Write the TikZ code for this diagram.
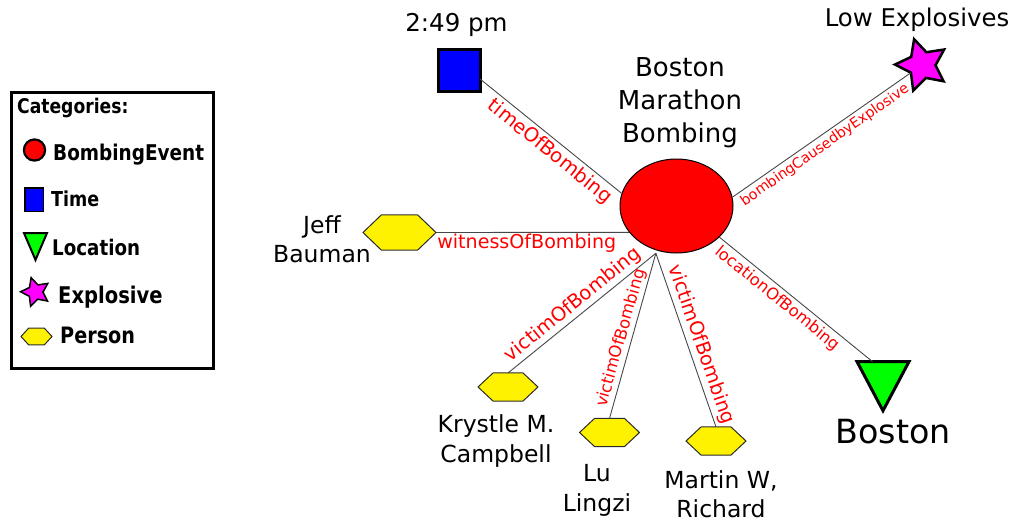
\documentclass[tikz,border=0pt]{standalone}
\usepackage{fontspec}
\setmainfont{DejaVu Sans}
\newfontfamily\legfont[FakeStretch=0.85]{DejaVu Sans Bold}
\usetikzlibrary{shapes.geometric}
\definecolor{edgegray}{HTML}{474747}
\definecolor{hexline}{HTML}{2B2B2B}
\definecolor{mag}{HTML}{FF00FF}
\definecolor{grn}{HTML}{00FF00}
\tikzset{
  edge/.style={draw=edgegray, line width=0.9pt},
  lab/.style={text=red, inner sep=#1, sloped},
  lab/.default=3pt,
  fs/.style={font=\fontsize{#1}{#1}\selectfont},
  person/.style={regular polygon, regular polygon sides=6, fill=yellow, draw=hexline,
    line width=1pt, inner sep=0pt, outer sep=0pt},
  starshape/.style={star, star points=5, star point ratio=2, fill=mag, draw=black,
    inner sep=0pt, outer sep=0pt, shape border rotate=17},
  tri/.style={regular polygon, regular polygon sides=3, shape border rotate=180,
    fill=grn, draw=black, inner sep=0pt, outer sep=0pt},
  sq/.style={rectangle, fill=blue, draw=black, inner sep=0pt, outer sep=0pt},
  nametext/.style={align=center, inner sep=0pt, font=\fontsize{23.5}{29.3}\selectfont},
  legtext/.style={anchor=base west, inner sep=0pt},
}
\begin{document}
\begin{tikzpicture}[x=1pt, y=-1pt]
\useasboundingbox (0,0) rectangle (1015,523);

% ---------- legend ----------
\node[draw, line width=3pt, minimum width=202pt, minimum height=276pt, inner sep=0pt] (legend) at (112.5,230.5) {};
\node[legtext, font=\legfont\fontsize{20.2}{22}\selectfont] (lcat) at (17,113) {Categories:};
\node[circle, fill=red, draw=black, line width=2.2pt, minimum size=21.2pt, inner sep=0pt] (lev) at (34.5,150) {};
\node[legtext, font=\legfont\fontsize{21.7}{24}\selectfont] (levt) at (53,160) {BombingEvent};
\node[sq, line width=1.5pt, minimum width=18.5pt, minimum height=23.5pt] (ltime) at (34,199.5) {};
\node[legtext, font=\legfont\fontsize{20.6}{22}\selectfont] (ltimet) at (51,206) {Time};
\node[tri, line width=2pt, minimum size=26.6pt, yscale=1.35] (lloc) at (35.5,242) {};
\node[legtext, font=\legfont\fontsize{21.5}{24}\selectfont] (lloct) at (52,255) {Location};
\node[starshape, line width=1.5pt, minimum size=30pt] (lexp) at (35.5,292) {};
\node[legtext, font=\legfont\fontsize{23}{25}\selectfont] (lexpt) at (58,303) {Explosive};
\node[person, minimum size=31pt, yscale=0.63] (lper) at (36.5,336.5) {};
\node[legtext, font=\legfont\fontsize{22.6}{25}\selectfont] (lpert) at (60,343) {Person};

% ---------- main graph nodes ----------
\node[ellipse, fill=red, draw=black, line width=1pt, minimum width=113pt, minimum height=94pt, inner sep=0pt] (event) at (676.5,206) {};
\node[nametext, font=\fontsize{26}{33}\selectfont] (eventtxt) at (680,103) {Boston\\Marathon\\Bombing};

\node[sq, line width=3pt, minimum size=42pt] (time) at (459,70) {};
\node[anchor=base, inner sep=0pt, fs=24.5] (timetxt) at (456.5,31) {2:49 pm};

\node[starshape, line width=2.5pt, minimum size=54pt] (explo) at (922,65) {};
\node[anchor=base, inner sep=0pt, fs=24.4] (explotxt) at (917,26) {Low Explosives};

\node[tri, line width=3pt, minimum size=60pt, yscale=1.09] (boston) at (883,378) {};
\node[anchor=base, inner sep=0pt, fs=33.3] (bostontxt) at (893,443) {Boston};

\node[person, minimum size=73pt, yscale=0.554] (jeff) at (399.5,232.5) {};
\node[nametext] (jefftxt) at (322,239.5) {Jeff\\Bauman};

\node[person, minimum size=60pt, yscale=0.54] (krystle) at (508,387) {};
\node[nametext] (krystletxt) at (496,441) {Krystle M.\\Campbell};

\node[person, minimum size=60pt, yscale=0.54] (lu) at (609.5,432.5) {};
\node[nametext] (lutxt) at (597,490.5) {Lu\\Lingzi};

\node[person, minimum size=60pt, yscale=0.54] (martin) at (716,441) {};
\node[nametext] (martintxt) at (721,494.5) {Martin W,\\Richard};

\coordinate (vic) at ([yshift=-3pt]event.245);

% ---------- connectors ----------
\draw[edge] (time.-23) -- node[lab=3pt, below, pos=.55, fs=19.5] {timeOfBombing} (event.167);
\draw[edge] (jeff.east) -- node[lab=1pt, below, pos=.47, fs=19.1] {witnessOfBombing} (event.209);
\draw[edge] (event.9) -- node[lab=3pt, below, pos=.485, fs=14.3] {bombingCausedbyExplosive} (explo);
\draw[edge] (event.-36) -- node[lab=3pt, below, pos=.425, fs=16.2] {locationOfBombing} (boston.125);
\draw[edge] (vic) -- node[lab=2pt, above, pos=.51, fs=19.5] {victimOfBombing} (krystle.north);
\draw[edge] (vic) -- node[lab=2pt, above, pos=.53, fs=16.5] {victimOfBombing} (lu.north);
\draw[edge] (vic) -- node[lab=3pt, above, pos=.55, fs=19.3] {victimOfBombing} (martin.north);
\end{tikzpicture}
\end{document}
